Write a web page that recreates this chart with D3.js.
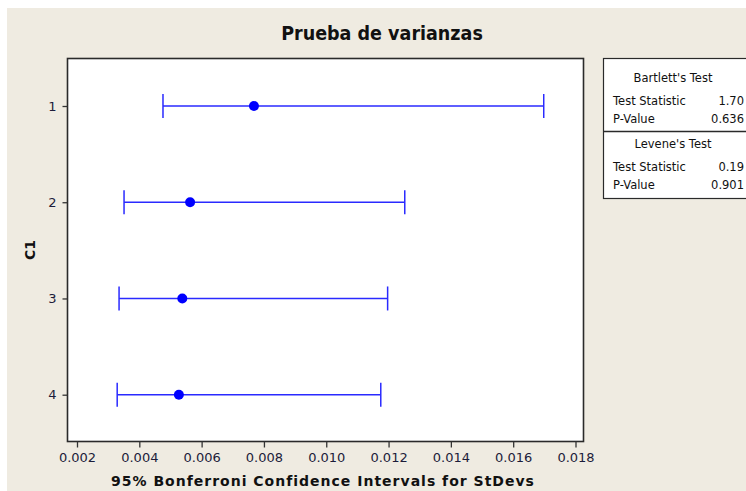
<!DOCTYPE html>
<html>
<head>
<meta charset="utf-8">
<script src="https://cdn.jsdelivr.net/npm/d3@7"></script>
<style>
  html, body { margin: 0; padding: 0; background: #ffffff; }
  svg { display: block; }
</style>
</head>
<body>
<script>
// Groups of C1 and their Bonferroni 95% intervals for the standard deviation
const groups = ["1", "2", "3", "4"];
const lower  = [0.00476, 0.00351, 0.00335, 0.00329];
const sigma  = [0.00768, 0.00563, 0.00538, 0.00527];
const upper  = [0.01698, 0.01252, 0.01197, 0.01175];
const xTicks = [0.002, 0.004, 0.006, 0.008, 0.010, 0.012, 0.014, 0.016, 0.018];

// Test results shown in the side panel
const bartlettRows = [["Test Statistic", "1.70"], ["P-Value", "0.636"]];
const leveneRows   = [["Test Statistic", "0.19"], ["P-Value", "0.901"]];

const W = 746, H = 491;
const svg = d3.select("body").append("svg").attr("width", W).attr("height", H);

// page background
svg.append("rect").attr("x", 7).attr("y", 8).attr("width", W - 7).attr("height", H - 8)
  .attr("fill", "#efebe1");

const frame = { left: 67.5, right: 583.5, top: 58.5, bottom: 441.5 };

const x = d3.scaleLinear().domain([0.002, 0.018]).range([77, 575.5]);
const y = d3.scalePoint().domain(groups).range([106, 394.7]);

// plot area
svg.append("rect")
  .attr("x", frame.left).attr("y", frame.top)
  .attr("width", frame.right - frame.left).attr("height", frame.bottom - frame.top)
  .attr("fill", "#ffffff").attr("stroke", "#2a2a2a").attr("stroke-width", 1.6);

// x axis
const xAxis = svg.append("g")
  .attr("transform", `translate(0,${frame.bottom})`)
  .call(d3.axisBottom(x).tickValues(xTicks).tickFormat(d3.format(".3f")).tickSize(6).tickPadding(5));
xAxis.select(".domain").remove();
xAxis.selectAll("line").attr("stroke", "#333").attr("stroke-width", 1.3);
xAxis.selectAll("text").attr("font-family", "DejaVu Sans, Verdana, sans-serif")
  .attr("font-size", 13).attr("fill", "#1c1c3a");

// y axis
const yAxis = svg.append("g")
  .attr("transform", `translate(${frame.left},0)`)
  .call(d3.axisLeft(y).tickSize(5).tickPadding(6));
yAxis.select(".domain").remove();
yAxis.selectAll("line").attr("stroke", "#333").attr("stroke-width", 1.3);
yAxis.selectAll("text").attr("font-family", "DejaVu Sans, Verdana, sans-serif")
  .attr("font-size", 13).attr("fill", "#1c1c3a");

// titles
svg.append("text").attr("x", 382).attr("y", 40).attr("text-anchor", "middle")
  .attr("font-family", "DejaVu Sans Condensed, DejaVu Sans, sans-serif")
  .attr("font-weight", "bold").attr("font-size", 19.5).attr("fill", "#111")
  .text("Prueba de varianzas");

svg.append("text").attr("x", 323).attr("y", 486).attr("text-anchor", "middle")
  .attr("font-family", "DejaVu Sans, Verdana, sans-serif")
  .attr("font-weight", "bold").attr("font-size", 14).attr("letter-spacing", 1)
  .attr("fill", "#111")
  .text("95% Bonferroni Confidence Intervals for StDevs");

svg.append("text")
  .attr("transform", "translate(35,250) rotate(-90)").attr("text-anchor", "middle")
  .attr("font-family", "DejaVu Sans, Verdana, sans-serif")
  .attr("font-weight", "bold").attr("font-size", 14).attr("fill", "#111")
  .text("C1");

// interval bars
const blue = "#2a2aff";
const rows = groups.map((g, i) => ({ g, lo: lower[i], s: sigma[i], hi: upper[i] }));
const bars = svg.append("g").selectAll("g").data(rows).join("g");
bars.append("line")
  .attr("x1", d => x(d.lo)).attr("x2", d => x(d.hi))
  .attr("y1", d => y(d.g)).attr("y2", d => y(d.g))
  .attr("stroke", blue).attr("stroke-width", 1.5);
bars.append("line")
  .attr("x1", d => x(d.lo)).attr("x2", d => x(d.lo))
  .attr("y1", d => y(d.g) - 12).attr("y2", d => y(d.g) + 12)
  .attr("stroke", blue).attr("stroke-width", 1.5);
bars.append("line")
  .attr("x1", d => x(d.hi)).attr("x2", d => x(d.hi))
  .attr("y1", d => y(d.g) - 12).attr("y2", d => y(d.g) + 12)
  .attr("stroke", blue).attr("stroke-width", 1.5);
bars.append("circle")
  .attr("cx", d => x(d.s)).attr("cy", d => y(d.g)).attr("r", 5)
  .attr("fill", "#0000ff");

// side panel with test statistics
const panel = svg.append("g");
panel.append("rect").attr("x", 603.5).attr("y", 58.5).attr("width", 150).attr("height", 140)
  .attr("fill", "#ffffff").attr("stroke", "#2a2a2a").attr("stroke-width", 1.2);
panel.append("line").attr("x1", 603.5).attr("x2", 746).attr("y1", 131.5).attr("y2", 131.5)
  .attr("stroke", "#2a2a2a").attr("stroke-width", 1.4);

const pf = "DejaVu Sans, Verdana, sans-serif";
function section(title, rowsData, top) {
  panel.append("text").attr("x", 673).attr("y", top).attr("text-anchor", "middle")
    .attr("font-family", pf).attr("font-size", 11.5).attr("fill", "#111").text(title);
  rowsData.forEach((r, i) => {
    const ty = top + 23 + i * 18;
    panel.append("text").attr("x", 613).attr("y", ty)
      .attr("font-family", pf).attr("font-size", 11.5).attr("fill", "#111").text(r[0]);
    panel.append("text").attr("x", 744).attr("y", ty).attr("text-anchor", "end")
      .attr("font-family", pf).attr("font-size", 11.5).attr("fill", "#111").text(r[1]);
  });
}
section("Bartlett's Test", bartlettRows, 82);
section("Levene's Test", leveneRows, 148);
</script>
</body>
</html>
